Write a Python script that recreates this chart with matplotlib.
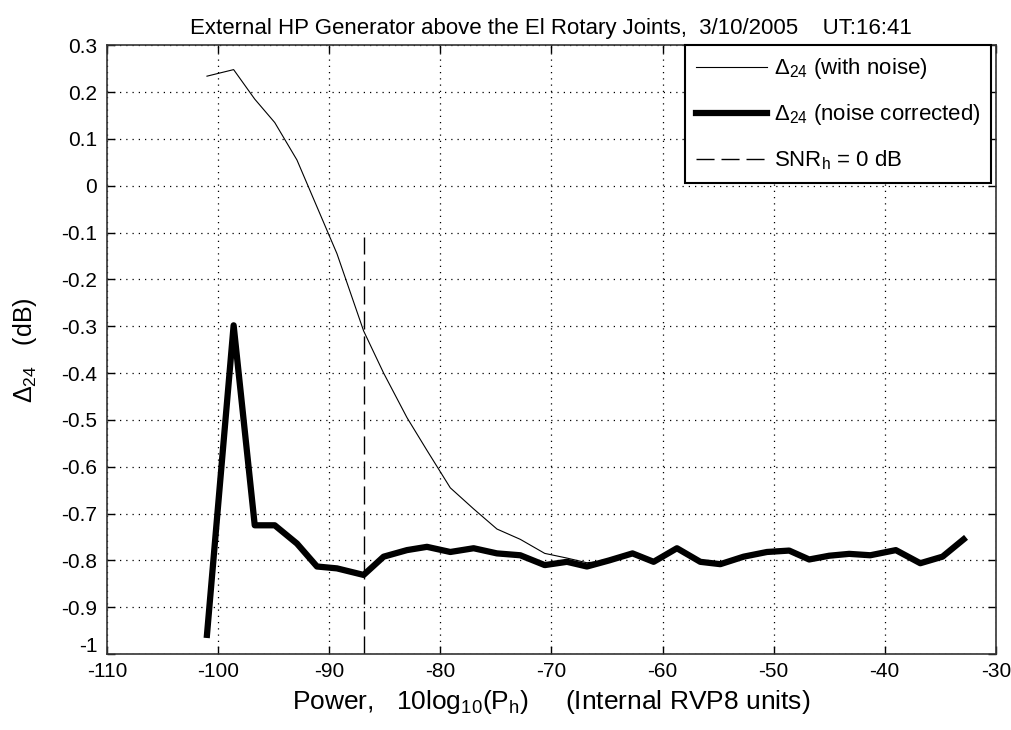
import matplotlib
matplotlib.use("Agg")
import matplotlib.pyplot as plt
import matplotlib.transforms as mtransforms

plt.rcParams['font.family'] = ['Liberation Sans', 'DejaVu Sans']
plt.rcParams['mathtext.fontset'] = 'custom'
plt.rcParams['mathtext.rm'] = 'Liberation Sans'
plt.rcParams['mathtext.it'] = 'Liberation Sans'
plt.rcParams['axes.unicode_minus'] = False

# power levels, 10log10(Ph)
power = [-101.0, -98.6, -96.7, -94.9, -92.9, -91.1, -89.3, -86.9, -85.1, -83.0,
         -81.2, -79.1, -77.0, -74.9, -72.8, -70.6, -68.6, -66.8, -64.8, -62.7,
         -60.8, -58.7, -56.6, -54.8, -52.7, -50.6, -48.6, -46.8, -45.0, -43.2,
         -41.3, -39.0, -36.8, -34.8, -32.9]

# delta24 with noise (thin)
d24_noise = [0.234, 0.248, 0.185, 0.135, 0.055, -0.045, -0.145, -0.310, -0.400, -0.495,
             -0.565, -0.645, -0.690, -0.733, -0.755, -0.785, -0.795, -0.805, -0.800, -0.785,
             -0.803, -0.774, -0.803, -0.808, -0.792, -0.782, -0.779, -0.798, -0.790, -0.786,
             -0.789, -0.778, -0.806, -0.792, -0.755]

# delta24 noise corrected (thick)
d24_corr = [-0.959, -0.298, -0.725, -0.725, -0.764, -0.813, -0.817, -0.831, -0.792, -0.778,
            -0.771, -0.782, -0.774, -0.785, -0.789, -0.810, -0.803, -0.813, -0.800, -0.785,
            -0.803, -0.774, -0.803, -0.808, -0.792, -0.782, -0.779, -0.798, -0.790, -0.786,
            -0.789, -0.778, -0.806, -0.792, -0.755]

snr0 = -86.9

fig = plt.figure(figsize=(10.11, 7.30), dpi=100)
ax = fig.add_axes([0.1058, 0.104, 0.8792, 0.834])

ax.plot(power, d24_noise, '-', color='black', lw=0.8, label='Δ$_{24}$ (with noise)')
ax.plot(power, d24_corr, '-', color='black', lw=4.5, label='Δ$_{24}$ (noise corrected)')
ax.plot([snr0, snr0], [-1, -0.11], color='black', lw=1, dashes=(13, 5), label='SNR$_h$ = 0 dB')

ax.set_xlim(-110, -30)
ax.set_ylim(-1, 0.3)
ax.set_xticks(range(-110, -29, 10))
ax.set_yticks([round(-1 + 0.1 * i, 1) for i in range(14)])
ax.set_yticklabels(['-1', '-0.9', '-0.8', '-0.7', '-0.6', '-0.5', '-0.4', '-0.3', '-0.2',
                    '-0.1', '0', '0.1', '0.2', '0.3'])
ax.grid(True, color='black', linestyle=(0, (1, 4)), linewidth=0.9)
ax.tick_params(direction='in', length=6, width=1, top=True, right=True, labelsize=15)
ax.tick_params(axis='y', pad=7)
ax.tick_params(axis='x', pad=6)
for s in ax.spines.values():
    s.set_linewidth(1.2)
    s.set_color('#333333')

# lift the bottom y label a bit, like the original, so it clears -110
lbl = ax.get_yticklabels()[0]
lbl.set_transform(lbl.get_transform() + mtransforms.ScaledTranslation(0, 7 / 72, fig.dpi_scale_trans))

ax.set_title('External HP Generator above the El Rotary Joints,  3/10/2005    UT:16:41',
             fontsize=16, pad=8)
ax.set_xlabel('Power,   10log$_{10}$(P$_h$)     (Internal RVP8 units)', fontsize=19)
ax.set_ylabel('Δ$_{24}$   (dB)', fontsize=18)
ax.xaxis.set_label_coords(0.5, -0.055)
ax.yaxis.set_label_coords(-0.076, 0.5)

leg = ax.legend(loc='upper right', bbox_to_anchor=(0.995, 1.0), fontsize=16, fancybox=False,
                framealpha=1, edgecolor='black', handlelength=3.2, labelspacing=0.95,
                borderaxespad=0.0, borderpad=0.5, handletextpad=0.3)
leg.get_frame().set_linewidth(1.5)

fig.savefig('out.png', dpi=100)
